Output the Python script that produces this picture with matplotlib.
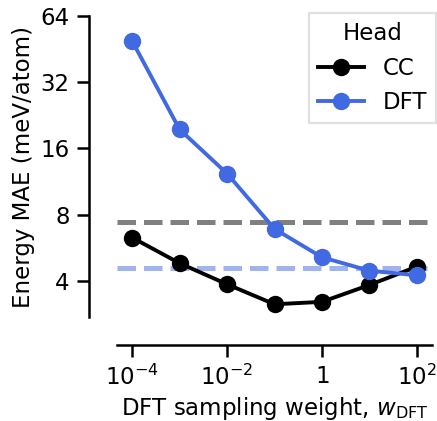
import matplotlib
matplotlib.use("Agg")
import matplotlib.pyplot as plt
import matplotlib.ticker as mticker
import numpy as np

# Data
weights = [1e-4, 1e-3, 1e-2, 1e-1, 1, 10, 100]
cc_mae = [6.3, 4.82, 3.87, 3.14, 3.22, 3.84, 4.65]
dft_mae = [49.1, 19.5, 12.3, 6.9, 5.13, 4.46, 4.25]
cc_baseline = 7.41
dft_baseline = 4.57
xticks = [1e-4, 1e-2, 1, 1e2]
xticklabels = ["$10^{-4}$", "$10^{-2}$", "$1$", "$10^{2}$"]
yticks = [4, 8, 16, 32, 64]
yticklabels = ["4", "8", "16", "32", "64"]

plt.rcParams['font.family'] = ['DejaVu Sans']
fs = 16.5

fig = plt.figure(figsize=(4.37, 4.21), dpi=100)
ax = fig.add_axes([117/437, 1 - 317.3/421, (432-117)/437, (317.3-15.7)/421])

blue = "#4169E1"
ax.axhline(cc_baseline, color="gray", lw=3.6, ls="--", zorder=1)
ax.axhline(dft_baseline, color=blue, alpha=0.5, lw=3.6, ls="--", zorder=1)
ax.plot(weights, cc_mae, color="black", lw=2.8, marker="o", ms=11.5, label="CC", zorder=3)
ax.plot(weights, dft_mae, color=blue, lw=2.8, marker="o", ms=11.5, label="DFT", zorder=3)

ax.set_xscale("log")
ax.set_yscale("log", base=2)
ax.set_xlim(10**-4.32, 10**2.32)
ax.set_ylim(2.74, 64)
ax.set_xticks(xticks)
ax.set_xticklabels(xticklabels)
ax.set_yticks(yticks)
ax.set_yticklabels(yticklabels)
ax.xaxis.set_minor_locator(mticker.NullLocator())
ax.yaxis.set_minor_locator(mticker.NullLocator())
ax.tick_params(labelsize=fs, length=8.5, width=1.8, pad=5.5)

for s in ["top", "right"]:
    ax.spines[s].set_visible(False)
for s in ["left", "bottom"]:
    ax.spines[s].set_position(("outward", 20))
    ax.spines[s].set_linewidth(1.8)

ax.set_xlabel("DFT sampling weight, $w_\\mathrm{DFT}$", fontsize=fs)
ax.set_ylabel("Energy MAE (meV/atom)", fontsize=fs)

leg = ax.legend(title="Head", fontsize=fs, title_fontsize=fs, loc="upper right",
                bbox_to_anchor=(436/437, 1 - 13/421), bbox_transform=fig.transFigure,
                borderaxespad=0, fancybox=False, edgecolor="#d9d9d9")
leg.get_frame().set_linewidth(1.6)

fig.savefig("out.png", dpi=100)
